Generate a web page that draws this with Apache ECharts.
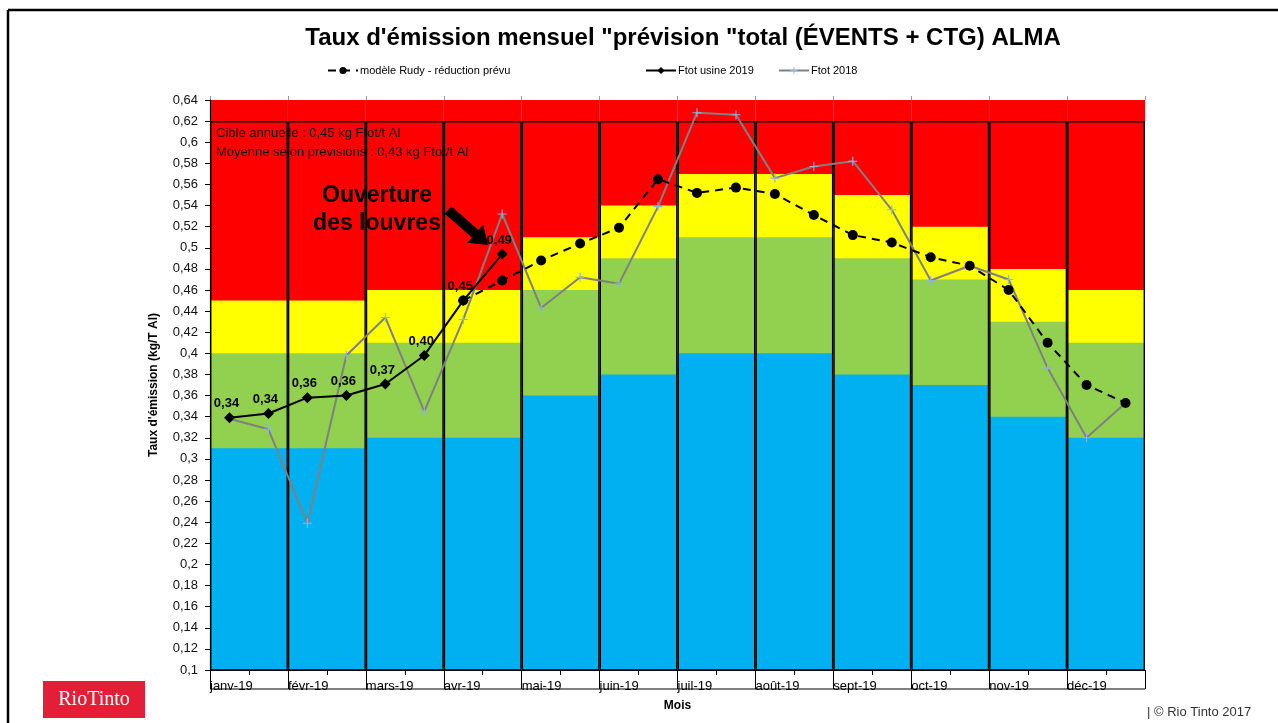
<!DOCTYPE html>
<html>
<head>
<meta charset="utf-8">
<script src="https://cdn.jsdelivr.net/npm/echarts@6/dist/echarts.min.js"></script>
<style>
  html, body { margin: 0; padding: 0; background: #fff; }
  #chart { width: 1278px; height: 723px; }
</style>
</head>
<body>
<div id="chart"></div>
<script>
// mois (barres) et demi-mois (courbes)
const months = ['janv-19', 'févr-19', 'mars-19', 'avr-19', 'mai-19', 'juin-19',
  'juil-19', 'août-19', 'sept-19', 'oct-19', 'nov-19', 'déc-19']
const halfMonths = months.flatMap(m => [m + ' a', m + ' b'])

// bornes hautes des zones de couleur, par mois
const redTop = [0.64, 0.64, 0.64, 0.64, 0.64, 0.64, 0.64, 0.64, 0.64, 0.64, 0.64, 0.64]
const yellowTop = [0.45, 0.45, 0.46, 0.46, 0.51, 0.54, 0.57, 0.57, 0.55, 0.52, 0.48, 0.46]
const greenTop = [0.40, 0.40, 0.41, 0.41, 0.46, 0.49, 0.51, 0.51, 0.49, 0.47, 0.43, 0.41]
const blueTop = [0.31, 0.31, 0.32, 0.32, 0.36, 0.38, 0.40, 0.40, 0.38, 0.37, 0.34, 0.32]
const frameTop = [0.62, 0.62, 0.62, 0.62, 0.62, 0.62, 0.62, 0.62, 0.62, 0.62, 0.62, 0.62]

// courbes (24 points, deux par mois)
const rudy = [null, null, null, null, null, null, 0.450, 0.469, 0.488, 0.504, 0.519, 0.565,
  0.552, 0.557, 0.551, 0.531, 0.512, 0.505, 0.491, 0.483, 0.460, 0.410, 0.370, 0.353]
const usine2019 = [0.339, 0.343, 0.358, 0.360, 0.371, 0.398, 0.450, 0.494]
const ftot2018 = [0.338, 0.328, 0.239, 0.398, 0.434, 0.345, 0.432, 0.532, 0.443, 0.472, 0.466, 0.539,
  0.628, 0.626, 0.566, 0.577, 0.582, 0.536, 0.469, 0.483, 0.470, 0.386, 0.320, 0.353]

const FONT = 'Liberation Sans, Arial, sans-serif'
const fmtAxis = v => String(+v.toFixed(2)).replace('.', ',')
const fmtLabel = v => v.toFixed(2).replace('.', ',')
const plusSymbol = 'path://M4.4,0H5.6V4.4H10V5.6H5.6V10H4.4V5.6H0V4.4H4.4Z'

// flèche "Ouverture des louvres"
const arrowPts = (x0, y0, x1, y1) => {
  const dx = x1 - x0
  const dy = y1 - y0
  const len = Math.sqrt(dx * dx + dy * dy)
  const ux = dx / len
  const uy = dy / len
  const nx = -uy
  const ny = ux
  const head = 17
  const sw = 5
  const hw = 12
  const bx = x1 - ux * head
  const by = y1 - uy * head
  return [
    [x0 + nx * sw, y0 + ny * sw], [bx + nx * sw, by + ny * sw], [bx + nx * hw, by + ny * hw],
    [x1, y1], [bx - nx * hw, by - ny * hw], [bx - nx * sw, by - ny * sw], [x0 - nx * sw, y0 - ny * sw]
  ]
}

const bar = (name, data, color) => ({
  name,
  type: 'bar',
  xAxisIndex: 0,
  data,
  barWidth: '100%',
  barGap: '-100%',
  itemStyle: { color },
  silent: true
})

const legendAt = (name, left) => ({
  data: [name],
  left,
  top: 60,
  itemWidth: 30,
  itemHeight: 9,
  textStyle: { fontSize: 11, color: '#000', fontFamily: FONT, padding: [0, 0, 0, -3] }
})

const chart = echarts.init(document.getElementById('chart'))
chart.setOption({
  animation: false,
  textStyle: { fontFamily: FONT },
  title: {
    text: 'Taux d\'émission mensuel "prévision "total (ÉVENTS + CTG) ALMA',
    left: 678,
    textAlign: 'center',
    top: 21,
    textStyle: { fontSize: 24, fontWeight: 'bold', color: '#000', fontFamily: FONT }
  },
  legend: [
    legendAt('modèle Rudy - réduction prévu', 322),
    legendAt('Ftot usine 2019', 640),
    legendAt('Ftot 2018', 773)
  ],
  grid: { left: 210, right: 133, top: 100, bottom: 53 },
  xAxis: [
    { type: 'category', data: months, show: false, gridIndex: 0 },
    {
      type: 'category',
      data: halfMonths,
      position: 'top',
      axisLine: { show: true, lineStyle: { color: '#aaa' } },
      axisTick: { show: true, length: 4, lineStyle: { color: '#999' } },
      axisLabel: { show: false }
    },
    {
      type: 'value',
      min: 0,
      max: 12,
      interval: 1,
      position: 'bottom',
      z: 5,
      name: 'Mois',
      nameLocation: 'middle',
      nameGap: 30,
      nameTextStyle: { fontSize: 12, fontWeight: 'bold', color: '#000' },
      axisLine: { show: true, lineStyle: { color: '#000', width: 1.2 } },
      axisTick: { show: true, length: 19, lineStyle: { color: '#000' } },
      minorTick: { show: true, splitNumber: 2, length: 5, lineStyle: { color: '#000' } },
      splitLine: { show: false },
      axisLabel: {
        formatter: v => months[v] || '',
        align: 'left',
        margin: 10,
        fontSize: 13,
        color: '#000',
        showMaxLabel: false
      }
    }
  ],
  yAxis: {
    type: 'value',
    min: 0.1,
    max: 0.64,
    interval: 0.02,
    z: 5,
    name: 'Taux d\'émission (kg/T Al)',
    nameLocation: 'middle',
    nameGap: 50,
    nameTextStyle: { fontSize: 12, fontWeight: 'bold', color: '#000' },
    axisLine: { show: true, lineStyle: { color: '#000', width: 1.2 } },
    axisTick: { show: true, length: 5, lineStyle: { color: '#000' } },
    splitLine: { show: false },
    axisLabel: { formatter: fmtAxis, fontSize: 13, color: '#111', margin: 12 }
  },
  series: [
    bar('zone rouge', redTop, '#ff0000'),
    bar('zone jaune', yellowTop, '#ffff00'),
    bar('zone verte', greenTop, '#92d050'),
    bar('zone bleue', blueTop, '#00b0f0'),
    {
      name: 'cadre',
      type: 'bar',
      xAxisIndex: 0,
      data: frameTop,
      barWidth: '100%',
      barGap: '-100%',
      silent: true,
      itemStyle: { color: 'rgba(0,0,0,0)', borderColor: '#000', borderWidth: 1.4 }
    },
    {
      name: 'Ftot 2018',
      type: 'line',
      xAxisIndex: 1,
      data: ftot2018,
      symbol: plusSymbol,
      symbolSize: 9,
      itemStyle: { color: '#8db4e2' },
      lineStyle: { color: '#808080', width: 2 }
    },
    {
      name: 'modèle Rudy - réduction prévu',
      type: 'line',
      xAxisIndex: 1,
      data: rudy,
      symbol: 'circle',
      symbolSize: 10,
      itemStyle: { color: '#000' },
      lineStyle: { color: '#000', width: 2, type: [8, 6] }
    },
    {
      name: 'Ftot usine 2019',
      type: 'line',
      xAxisIndex: 1,
      data: usine2019,
      symbol: 'diamond',
      symbolSize: 11,
      itemStyle: { color: '#000' },
      lineStyle: { color: '#000', width: 2 },
      label: {
        show: true,
        position: 'top',
        distance: 2,
        offset: [-3, 0],
        formatter: p => fmtLabel(p.value),
        fontSize: 13,
        fontWeight: 'bold',
        color: '#000'
      }
    }
  ],
  graphic: [
    { type: 'line', shape: { x1: 8, y1: 10, x2: 1278, y2: 10 }, style: { stroke: '#000', lineWidth: 2.5 } },
    { type: 'line', shape: { x1: 8, y1: 10, x2: 8, y2: 723 }, style: { stroke: '#000', lineWidth: 2.5 } },
    { type: 'line', shape: { x1: 210, y1: 689, x2: 1145, y2: 689 }, style: { stroke: '#000', lineWidth: 1.2 }, z: 10 },
    {
      type: 'text', left: 216, top: 127, z: 10,
      style: { text: 'Cible annuelle : 0,45 kg Ftot/t Al', font: '13px ' + FONT, fill: '#111' }
    },
    {
      type: 'text', left: 216, top: 146, z: 10,
      style: { text: 'Moyenne selon prévisions : 0,43 kg Ftot/t Al', font: '13px ' + FONT, fill: '#111' }
    },
    {
      type: 'text', x: 377, y: 182, z: 10,
      style: {
        text: 'Ouverture\ndes louvres',
        font: 'bold 23px ' + FONT,
        fill: '#000',
        align: 'center',
        lineHeight: 28
      }
    },
    {
      type: 'polygon', z: 10,
      shape: { points: arrowPts(448, 210, 488, 245) },
      style: { fill: '#000' }
    },
    { type: 'rect', shape: { x: 43, y: 681, width: 102, height: 37 }, style: { fill: '#e41e36' } },
    {
      type: 'text', x: 94, y: 700,
      style: { text: 'RioTinto', font: '20px Liberation Serif, serif', fill: '#fff', align: 'center', verticalAlign: 'middle' }
    },
    {
      type: 'text', x: 1147, y: 712,
      style: { text: '| © Rio Tinto 2017', font: '13px ' + FONT, fill: '#333', verticalAlign: 'middle' }
    }
  ]
})
</script>
</body>
</html>
